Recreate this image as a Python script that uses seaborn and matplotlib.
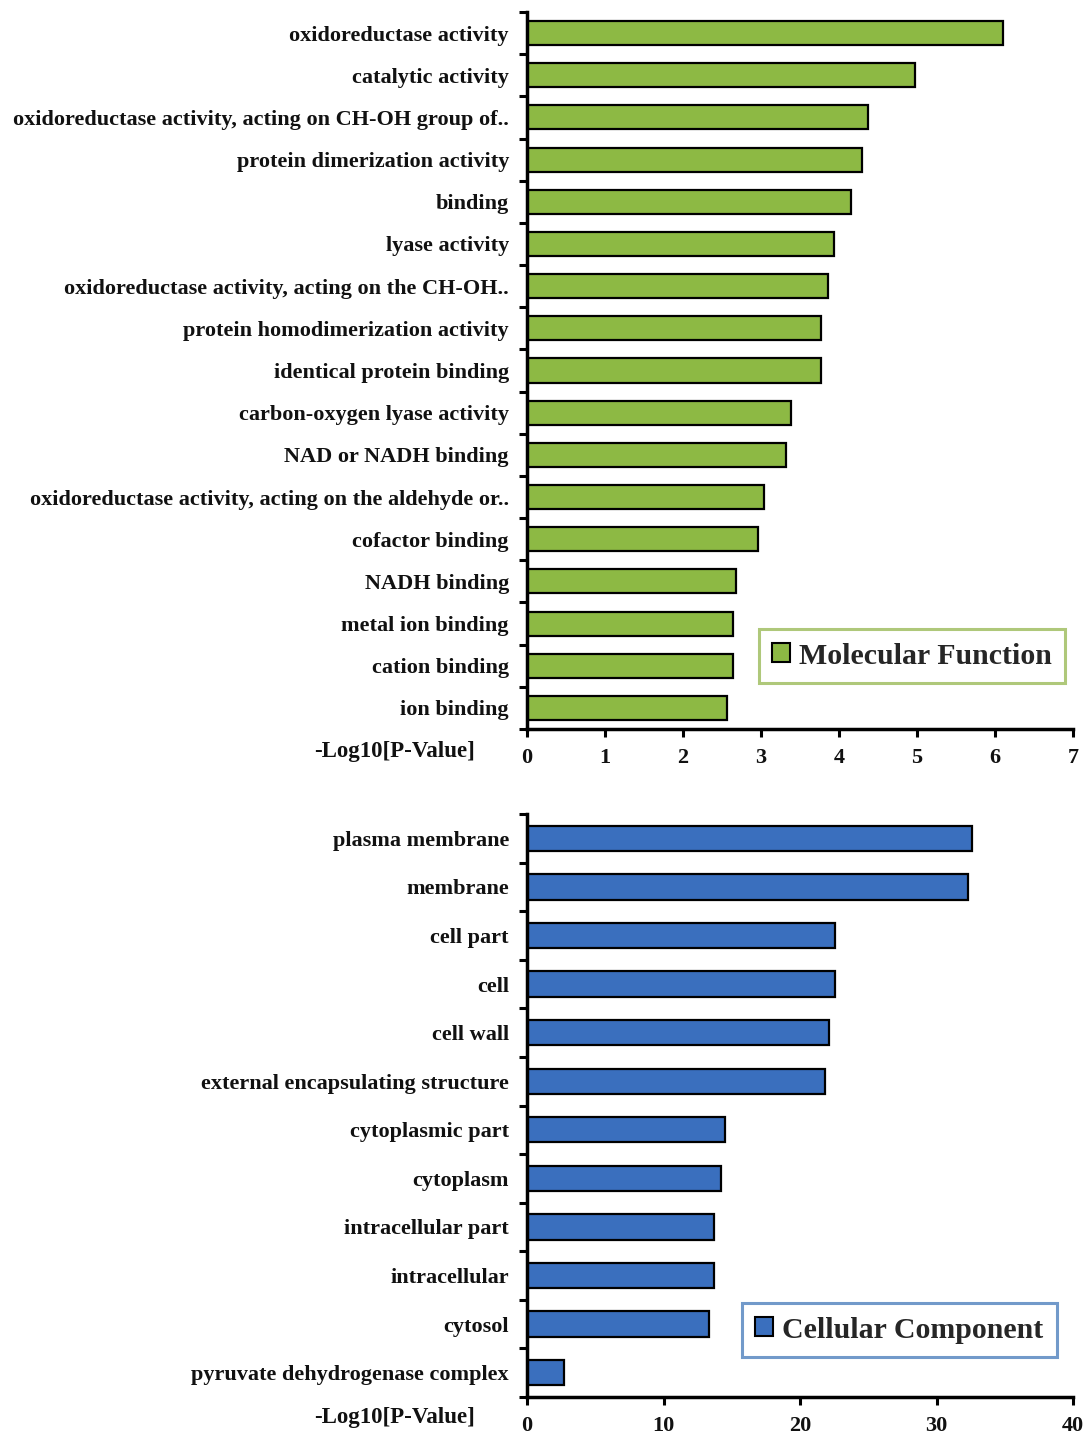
import matplotlib
matplotlib.use("Agg")
import matplotlib.pyplot as plt
import seaborn as sns
import pandas as pd
from matplotlib.patches import Patch
from matplotlib.ticker import FixedLocator

sns.set_theme(style="white")
plt.rcParams['font.family'] = ['Liberation Serif', 'DejaVu Serif']
plt.rcParams['font.weight'] = 'bold'

mf_terms = [
    "oxidoreductase activity",
    "catalytic activity",
    "oxidoreductase activity, acting on CH-OH group of..",
    "protein dimerization activity",
    "binding",
    "lyase activity",
    "oxidoreductase activity, acting on the CH-OH..",
    "protein homodimerization activity",
    "identical protein binding",
    "carbon-oxygen lyase activity",
    "NAD or NADH binding",
    "oxidoreductase activity, acting on the aldehyde or..",
    "cofactor binding",
    "NADH binding",
    "metal ion binding",
    "cation binding",
    "ion binding",
]
mf_values = [6.10, 4.97, 4.37, 4.29, 4.15, 3.94, 3.86, 3.77, 3.77, 3.38, 3.32,
             3.04, 2.96, 2.68, 2.64, 2.64, 2.56]

cc_terms = [
    "plasma membrane",
    "membrane",
    "cell part",
    "cell",
    "cell wall",
    "external encapsulating structure",
    "cytoplasmic part",
    "cytoplasm",
    "intracellular part",
    "intracellular",
    "cytosol",
    "pyruvate dehydrogenase complex",
]
cc_values = [32.6, 32.3, 22.6, 22.6, 22.1, 21.8, 14.5, 14.2, 13.7, 13.7, 13.3, 2.7]

mf_ticks = [0, 1, 2, 3, 4, 5, 6, 7]
cc_ticks = [0, 10, 20, 30, 40]

W, H = 1084, 1436
fig = plt.figure(figsize=(W / 100, H / 100), dpi=100)

def fx(px):
    return px / W

def fy(py):
    return 1 - py / H

ax1 = fig.add_axes([fx(527), fy(729), fx(1073) - fx(527), fy(12) - fy(729)])
ax2 = fig.add_axes([fx(527), fy(1397), fx(1073) - fx(527), fy(814) - fy(1397)])

def style_panel(ax, terms, values, ticks, color, edge_legend, label, width, legend_bbox, xl_y):
    df = pd.DataFrame({"term": terms, "value": values})
    sns.barplot(data=df, x="value", y="term", orient="h", color=color,
                edgecolor="black", linewidth=1.6, width=width, ax=ax, saturation=1)
    n = len(terms)
    ax.set_ylim(n - 0.5, -0.5)
    ax.set_xlim(ticks[0], ticks[-1])
    ax.set_xticks(ticks)
    ax.set_xlabel("")
    ax.set_ylabel("")
    for s in ["top", "right"]:
        ax.spines[s].set_visible(False)
    for s in ["left", "bottom"]:
        ax.spines[s].set_color("black")
        ax.spines[s].set_linewidth(2.5)
    ax.yaxis.set_minor_locator(FixedLocator([i - 0.5 for i in range(n + 1)]))
    ax.tick_params(axis="y", which="major", length=0, pad=13, labelsize=16)
    ax.tick_params(axis="y", which="minor", left=True, length=6, width=2.2, color="black", direction="out")
    ax.tick_params(axis="x", which="major", bottom=True, length=6, width=2.2, color="black",
                   direction="out", pad=8, labelsize=16)
    for lbl in ax.get_yticklabels() + ax.get_xticklabels():
        lbl.set_fontweight("bold")
        lbl.set_color("#111111")
    handle = Patch(facecolor=color, edgecolor="black", linewidth=1.5, label=label)
    leg = ax.legend(handles=[handle], loc="center", bbox_to_anchor=legend_bbox,
                    bbox_transform=fig.transFigure, frameon=True, fancybox=False,
                    prop={"weight": "bold", "size": 21.5}, handlelength=0.6, handleheight=0.6,
                    handletextpad=0.3, borderpad=0.45, borderaxespad=0)
    leg.get_frame().set_edgecolor(edge_legend)
    leg.get_frame().set_linewidth(2.2)
    fig.text(fx(475), fy(xl_y), "-Log10[P-Value]", ha="right", va="center",
             fontsize=16.5, fontweight="bold", color="#111111")

style_panel(ax1, mf_terms, mf_values, mf_ticks, "#8DB944", "#9BBB59",
            "Molecular Function", 0.57, (fx(912), fy(656)), 752)
style_panel(ax2, cc_terms, cc_values, cc_ticks, "#3A6FBE", "#4F81BD",
            "Cellular Component", 0.52, (fx(899), fy(1330)), 1418)

fig.savefig("out.png", dpi=100)
